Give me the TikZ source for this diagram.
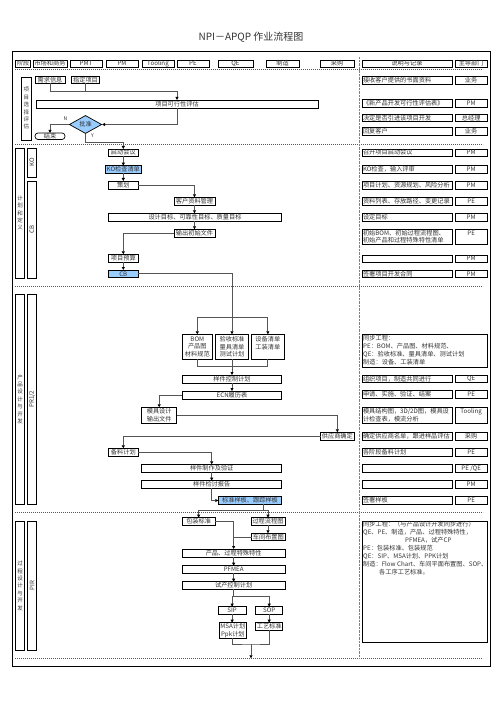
\documentclass[tikz,border=0pt]{standalone}
\usepackage{fontspec}
\usepackage{graphicx}
\setmainfont{Noto Sans CJK SC}
\usetikzlibrary{arrows.meta,shapes.geometric,calc}
\definecolor{lnc}{HTML}{555555}
\definecolor{bluef}{HTML}{99CCFF}
\definecolor{txt}{HTML}{333333}
\newcommand\fs{\fontsize{6.2}{7.6}\selectfont}
\newcommand\fsv{\fontsize{5.5}{7.4}\selectfont}
\tikzset{
  bx/.style={draw=black,line width=0.7pt,inner sep=0pt,outer sep=0pt,font=\fs,align=center,text=txt},
  lbox/.style={bx,align=left,inner xsep=1pt},
  vbox/.style={bx,line width=0.9pt,font=\fsv},
  conn/.style={draw=lnc,line width=0.9pt},
  arr/.style={conn,-{Triangle[length=3pt,width=3pt,color=black]}},
  sep/.style={draw=lnc,line width=0.5pt,dash pattern=on 1.2pt off 0.8pt},
  lbl/.style={font=\fontsize{5}{6}\selectfont,inner sep=0pt,text=txt}
}
\newcommand\bx[7][]{\node[bx,minimum width={(#5-#3)*1pt},minimum height={(#6-#4)*1pt},#1] (#2) at ({(#3+#5)/2},{(#4+#6)/2}) {#7};}
\newcommand\rw[5]{%
  \node[lbox,text width=88pt,minimum height={(#3-#2)*1pt}] (r#1) at (407,{(#2+#3)/2}) {#4};
  \node[bx,minimum width=32.3pt,minimum height={(#3-#2)*1pt}] (d#1) at (471.15,{(#2+#3)/2}) {#5};}
\begin{document}
\begin{tikzpicture}[x=1pt,y=-1pt]
\useasboundingbox (0,0) rectangle (503,711);
% title
\node[inner sep=0pt,text=txt] (title) at (251,37) {\fontsize{10}{12}\selectfont NPI－APQP 作业流程图};
% frame
\draw[line width=0.8pt] (12.5,51) rectangle (490,666);
% separators
\foreach \yy in {69,144,286,512.5,658.3} \draw[sep] (15,\yy) -- (483,\yy);
\draw[draw=gray,line width=0.7pt,dash pattern=on 0.7pt off 0.7pt] (359,57) -- (359,658);
% header
\bx{h0}{15.7}{60}{30.7}{67}{阶段}
\bx{h1}{33}{60}{67}{67}{市场和商务}
\bx{h2}{70}{60}{102}{67}{PMT}
\bx{h3}{106}{60}{138}{67}{PM}
\bx{h4}{142}{60}{174}{67}{Tooling}
\bx{h5}{177}{60}{209}{67}{PE}
\bx{h6}{218}{60}{253}{67}{QE}
\bx{h7}{266}{60}{299}{67}{制造}
\bx{h8}{320}{60}{354}{67}{采购}
\bx{h9}{362}{60}{452}{67}{说明与记录}
\bx{h10}{455}{60}{487.3}{67}{主导部门}
% stage labels
\bx[vbox]{L1}{21}{77}{31.7}{140}{项\\目\\选\\择\\评\\估}
\bx[vbox]{L2}{15.7}{148}{24.3}{278}{计\\划\\和\\定\\义}
\bx[vbox,font=\fs]{KO}{27}{148}{36.7}{177}{\rotatebox{90}{KO}}
\bx[vbox,font=\fs]{CBl}{27}{181}{36.7}{278}{\rotatebox{90}{CB}}
\bx[vbox]{L3}{15.7}{294.3}{24.3}{504}{产\\品\\设\\计\\与\\开\\发}
\bx[vbox,font=\fs]{PR}{27.3}{294.3}{36.7}{504}{\rotatebox{90}{PR1/2}}
\bx[vbox]{L4}{15.7}{521.7}{24.3}{650}{过\\程\\设\\计\\与\\开\\发}
\bx[vbox,font=\fs]{PIR}{27.3}{521.7}{36.7}{650}{\rotatebox{90}{PIR}}
% section 1
\bx{xq}{35}{76}{65}{83.3}{需求信息}
\bx{zd}{71.7}{76}{99.3}{83.3}{指定项目}
\bx{feas}{36}{100}{318}{108.3}{项目可行性评估}
\node[diamond,draw=black,line width=0.7pt,fill=bluef,minimum width=32.4pt,minimum height=15.6pt,inner sep=0pt,font=\fs,text=txt] (dia) at (85.5,124.5) {批准};
\bx[rounded corners=3pt]{end}{35}{133}{65}{139.5}{结束}
\node[lbl] (lN) at (65.5,119) {N};
\node[lbl] (lY) at (92.5,136) {Y};
\coordinate (j1) at (177,91);
\coordinate (j2) at (123.3,142.3);
\draw[conn] (zd.south) |- (j1);
\draw[arr] (xq.south) |- (j1) -- (feas.north);
\draw[arr] (feas.south) |- (dia.east);
\draw[arr] (dia.west) -| (end.north);
\draw[arr] (dia.south) |- (j2) -- (j2 |- 0,149);
% section 2
\bx{qd}{108.3}{149}{138.3}{156}{启动会议}
\bx[fill=bluef]{ko}{105.3}{165.7}{141.3}{173.3}{KO检查清单}
\bx{ch}{108.3}{181}{138.3}{189}{策划}
\bx{kh}{174}{197.3}{215}{205.3}{客户资料管理}
\bx{sj}{108.3}{213.3}{281.7}{221}{设计目标、可靠性目标、质量目标}
\bx{sc}{174}{229.3}{215}{237.3}{输出初始文件}
\bx{ys}{108.3}{254.3}{138.3}{262}{项目预算}
\bx[fill=bluef]{cbx}{108.3}{270}{138.3}{277.7}{CB}
\draw[arr] (qd.south) -- (ko.north);
\draw[arr] (ko.south) -- (ch.north);
\draw[arr] (ch.east) -| (kh.north);
\draw[arr] (kh.south) -- (kh.south |- sj.north);
\draw[arr] (sc.north |- sj.south) -- (sc.north);
\draw[arr] (sc.west) -| (ys.north);
\draw[arr] (ys.south) -- (cbx.north);
% section 3
\bx{bom}{182.3}{334.3}{212.3}{359.3}{BOM\\产品图\\材料规范}
\bx{ysb}{215.7}{334.3}{248.3}{359.3}{验收标准\\量具清单\\测试计划}
\bx{sb}{251.7}{334.3}{284}{359.3}{设备清单\\工装清单\\\mbox{}}
\bx{ykz}{182.3}{375}{281.7}{383.3}{样件控制计划}
\bx{ecn}{182.3}{391}{281.7}{399.3}{ECN履历表}
\bx{mj}{141.7}{407.3}{176.7}{423.3}{模具设计\\输出文件}
\bx{gys}{320.7}{432.3}{354}{440}{供应商确定}
\bx{bl}{108.3}{448.3}{138.3}{456}{备料计划}
\bx{yzz}{141.7}{464.3}{281.7}{472.3}{样件制作及验证}
\bx{yjt}{141.7}{480.7}{281.7}{488.3}{样件检讨报告}
\bx[fill=bluef]{bzyb}{218.3}{496.7}{281.7}{504.3}{标准样板、跟踪样板}
\coordinate (j3) at (232,317.7);
\coordinate (j4) at (232,366.7);
\draw[arr] (cbx.east) -| (ysb.north);
\draw[arr] (j3) -| (bom.north);
\draw[arr] (j3) -| (sb.north);
\draw[conn] (bom.south) |- (j4) -| (sb.south);
\draw[arr] (ysb.south) -- (ykz.north);
\draw[arr] (ykz.south) -- (ecn.north);
\draw[arr] (ecn.west) -| (mj.north);
\draw[arr] (mj.east) -| (gys.north);
\draw[arr] (gys.west) -| (bl.north);
\draw[arr] (bl.east) -| (yzz.north);
\draw[arr] (yzz.south) -- (yjt.north);
\draw[arr] (yjt.south) |- (bzyb.west);
% section 4
\bx{bz}{182.3}{517.7}{215}{525}{包装标准}
\bx{lc}{251}{517.7}{285}{525}{过程流程图}
\bx{cj}{251.7}{533.3}{285}{540.7}{车间布置图}
\bx{cp}{182.3}{549}{285}{557.3}{产品、过程特殊特性}
\bx{pf}{182.3}{565.7}{285}{573.3}{PFMEA}
\bx{sk}{182.3}{581.7}{285}{589.3}{试产控制计划}
\bx{sip}{218.3}{606.7}{246}{614.3}{SIP}
\bx{sop}{255.7}{606.7}{282.7}{614.3}{SOP}
\bx{msa}{219}{622.7}{246.7}{638.3}{MSA计划\\Ppk计划}
\bx{gy}{255.7}{622.7}{282.7}{630}{工艺标准}
\coordinate (j5) at (263,510.5);
\coordinate (j6) at (233,596.7);
\coordinate (j7) at (251,644);
\coordinate (j8) at (251,658.3);
\draw[conn] (bzyb.south -| j5) -- (j5);
\draw[arr] (j5) -| (bz.north);
\draw[arr] (j5) -| (lc.north);
\draw[arr] (lc.south) -- (lc.south |- cj.north);
\draw[arr] (bz.east) -| (cp.north);
\draw[conn] (cj.west) -- (cj.west -| cp.north);
\draw[arr] (cp.south) -- (pf.north);
\draw[arr] (pf.south) -- (sk.north);
\draw[conn] (sk.south) -- (sk.south |- j6);
\draw[arr] (sk.south |- j6) -| (sip.north);
\draw[arr] (sk.south |- j6) -| (sop.north);
\draw[arr] (sip.south) -- (sip.south |- msa.north);
\draw[arr] (sop.south) -- (gy.north);
\draw[conn] (msa.south) |- (j7) -| (gy.south);
\draw[arr] (j7) -- (j8);
% right column
\rw{1}{76.7}{84}{接收客户提供的书面资料}{业务}
\rw{2}{99.3}{107.3}{《新产品开发可行性评估表》}{PM}
\rw{3}{114}{121.7}{决定是否引进该项目开发}{总经理}
\rw{4}{127.3}{135}{回复客户}{业务}
\rw{5}{149}{156}{召开项目启动会议}{PM}
\rw{6}{165.7}{173.3}{KO检查，输入评审}{PM}
\rw{7}{181}{189}{项目计划、资源规划、风险分析}{PM}
\rw{8}{197.3}{205.3}{资料列表、存放路径、变更记录}{PE}
\rw{9}{213.3}{221}{设定目标}{PM}
\rw{10}{229.3}{244.3}{初始BOM、初始过程流程图、\\初始产品和过程特殊特性清单}{PE\\\mbox{}}
\rw{11}{255}{262.3}{}{PM}
\rw{12}{270}{277.7}{签署项目开发合同}{PM}
\rw{13}{375}{382.7}{组织项目，制造共同进行}{QE}
\rw{14}{390.7}{398.3}{申请、实施、验证、结案}{PE}
\rw{15}{407.3}{423.3}{模具结构图，3D/2D图，模具设\\计检查表，模流分析}{Tooling\\\mbox{}}
\rw{16}{432.3}{440}{确定供应商名单，跟进样品评估}{采购}
\rw{17}{448.3}{456}{各阶段备料计划}{PE}
\rw{18}{464.3}{472.3}{}{PE /QE}
\rw{19}{480.7}{488.3}{}{PM}
\rw{20}{496.7}{504.3}{签署样板}{PE}
\bx{big1}{362}{334.3}{487.3}{367.3}{}
\node[anchor=north west,inner sep=0pt,align=left,font=\fontsize{6.2}{8}\selectfont,text=txt] (t1) at (363,334.8) {同步工程：\\PE：BOM、产品图、材料规范、\\QE：验收标准、量具清单、测试计划\\制造：设备、工装清单};
\bx{big2}{362}{521}{487.3}{642.3}{}
\node[anchor=north west,inner sep=0pt,align=left,font=\fontsize{6.2}{7.9}\selectfont,text=txt] (t2) at (363,521.3) {同步工程：（与产品设计开发同步进行）\\QE、PE、制造，产品、过程特殊特性，\\\hspace*{42pt}PFMEA，试产CP\\PE：包装标准、包装规范\\QE：SIP、MSA计划、PPK计划\\制造：Flow Chart、车间平面布置图、SOP、\\\hspace*{16pt}各工序工艺标准。};
\end{tikzpicture}
\end{document}
